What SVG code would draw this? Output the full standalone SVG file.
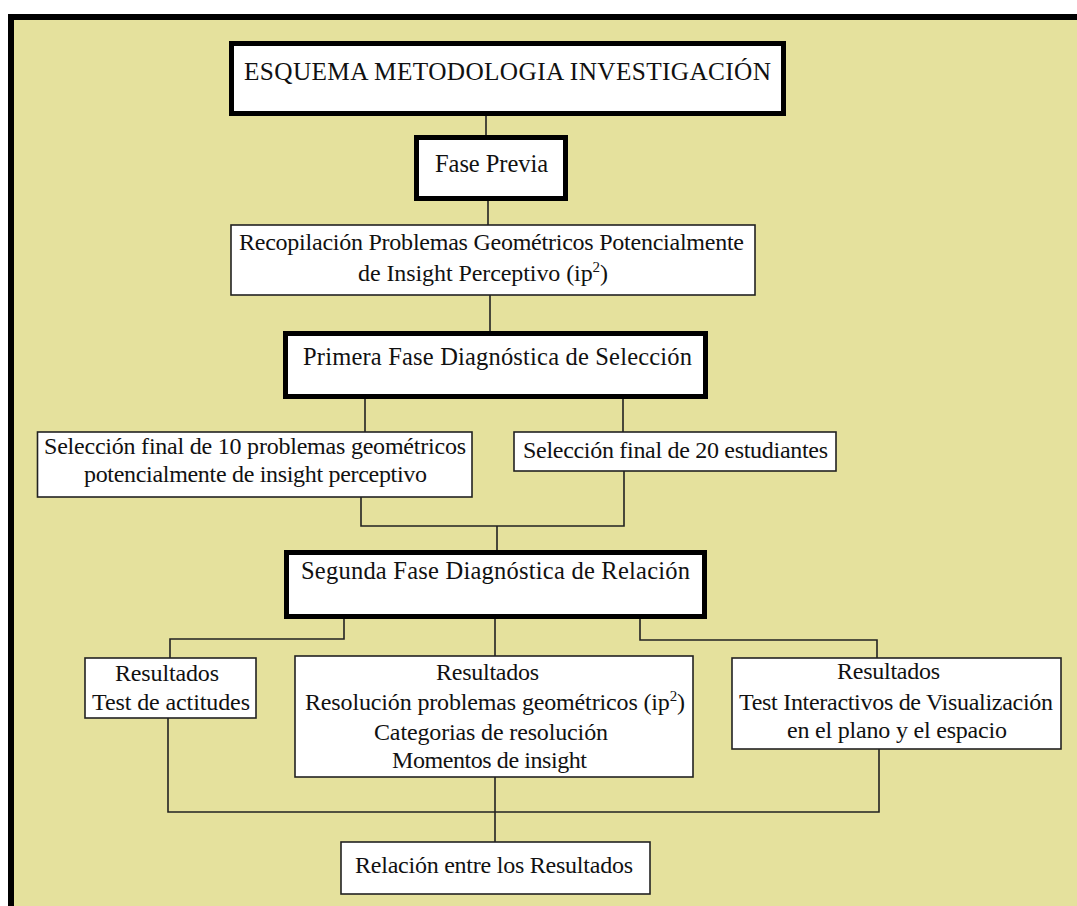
<svg xmlns="http://www.w3.org/2000/svg" width="1077" height="906" viewBox="0 0 1077 906">
<style>
.bg{fill:#E5E19D;stroke:#000;stroke-width:6}
.thick{fill:#fff;stroke:#000;stroke-width:5}
.thin{fill:#fff;stroke:#222;stroke-width:1.6}
.c{fill:none;stroke:#222;stroke-width:1.6}
text{font-family:"Liberation Serif","Times New Roman",serif;font-size:24px;fill:#111}
.h{font-size:24.5px}
.t{font-size:25.3px}
.sup{font-size:15px}
</style>
<rect x="0" y="0" width="1077" height="906" fill="#fff"/>
<rect class="bg" x="11" y="17" width="1100" height="1000"/>
<g id="connectors">
<path class="c" d="M486 116V135M488 201V225M490 295V331M365 399V432M623 399V432M361 497V526H624V471M497 526V550M344 619V639H170V658M495 619V656M640 619V640H877V658M168 718V812H879V749M495 777V842"/>
</g>
<g id="title"><rect class="thick" x="231.5" y="43.5" width="552" height="70"/>
<text class="t" x="244" y="80" textLength="527" lengthAdjust="spacing">ESQUEMA METODOLOGIA INVESTIGACIÓN</text></g>
<g id="fase-previa"><rect class="thick" x="416.5" y="137.5" width="149" height="61"/>
<text class="h" x="435" y="172" textLength="113" lengthAdjust="spacing">Fase Previa</text></g>
<g id="recopilacion"><rect class="thin" x="231" y="225" width="524" height="70"/>
<text x="239" y="250" textLength="505" lengthAdjust="spacing">Recopilación Problemas Geométricos Potencialmente</text>
<text x="358" y="281" textLength="250" lengthAdjust="spacing">de Insight Perceptivo  (ip<tspan class="sup" dy="-9">2</tspan><tspan dy="9">)</tspan></text></g>
<g id="primera-fase"><rect class="thick" x="285.5" y="333.5" width="420" height="63"/>
<text class="h" x="303" y="365" textLength="389" lengthAdjust="spacing">Primera Fase Diagnóstica de Selección</text></g>
<g id="seleccion-problemas"><rect class="thin" x="37.5" y="432" width="434.5" height="65"/>
<text x="44" y="454" textLength="422" lengthAdjust="spacing">Selección final de 10 problemas geométricos</text>
<text x="84" y="482" textLength="343" lengthAdjust="spacing">potencialmente de insight perceptivo</text></g>
<g id="seleccion-estudiantes"><rect class="thin" x="514" y="432" width="322" height="39"/>
<text x="523" y="458" textLength="305" lengthAdjust="spacing">Selección final de 20 estudiantes</text></g>
<g id="segunda-fase"><rect class="thick" x="286.5" y="552.5" width="418" height="64"/>
<text class="h" x="301" y="579" textLength="389" lengthAdjust="spacing">Segunda Fase Diagnóstica de Relación</text></g>
<g id="resultados-actitudes"><rect class="thin" x="85" y="658" width="171" height="60"/>
<text x="115" y="681" textLength="104" lengthAdjust="spacing">Resultados</text>
<text x="92" y="710" textLength="158" lengthAdjust="spacing">Test de actitudes</text></g>
<g id="resultados-resolucion"><rect class="thin" x="295" y="656" width="398" height="121"/>
<text x="436" y="680" textLength="103" lengthAdjust="spacing">Resultados</text>
<text x="305" y="710" textLength="380" lengthAdjust="spacing">Resolución problemas geométricos (ip<tspan class="sup" dy="-9">2</tspan><tspan dy="9">)</tspan></text>
<text x="374" y="740" textLength="234" lengthAdjust="spacing">Categorias de resolución</text>
<text x="392" y="768" textLength="195" lengthAdjust="spacing">Momentos de insight</text></g>
<g id="resultados-visualizacion"><rect class="thin" x="732" y="658" width="329" height="91"/>
<text x="837" y="679" textLength="103" lengthAdjust="spacing">Resultados</text>
<text x="739" y="710" textLength="314" lengthAdjust="spacing">Test Interactivos de Visualización</text>
<text x="787" y="738" textLength="220" lengthAdjust="spacing">en el plano y el espacio</text></g>
<g id="relacion"><rect class="thin" x="341" y="842" width="309" height="52"/>
<text x="355" y="873" textLength="278" lengthAdjust="spacing">Relación entre los Resultados</text></g>
</svg>
